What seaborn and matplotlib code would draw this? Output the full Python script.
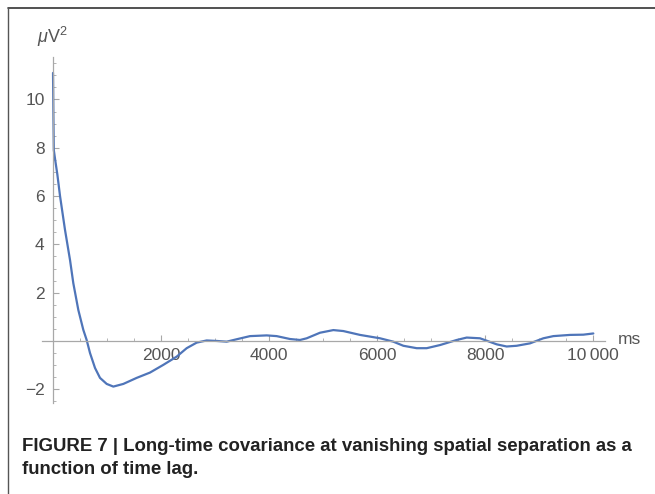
import numpy as np
import pandas as pd
import matplotlib
matplotlib.use("Agg")
import matplotlib.pyplot as plt
from matplotlib.lines import Line2D
from matplotlib.ticker import MultipleLocator, FixedLocator
import seaborn as sns

# ---- data ----
lag_ms = [0, 3, 8, 15, 40, 80, 130, 222, 315, 376, 469, 561, 623, 685, 778,
          870, 994, 1117, 1302, 1549, 1796, 2043, 2290, 2475, 2660, 2845,
          3030, 3216, 3401, 3648, 3957, 4142, 4389, 4574, 4698, 4944, 5191,
          5376, 5685, 6056, 6302, 6488, 6735, 6920, 7167, 7476, 7661, 7907,
          8031, 8216, 8401, 8586, 8833, 9080, 9265, 9574, 9821, 10006]
cov_uv2 = [11.1, 10.4, 9.2, 7.9, 7.5, 6.9, 6.0, 4.6, 3.35, 2.39, 1.28, 0.46,
           0.04, -0.5, -1.12, -1.53, -1.78, -1.89, -1.78, -1.53, -1.31, -0.99,
           -0.65, -0.3, -0.07, 0.02, 0.0, -0.03, 0.07, 0.2, 0.23, 0.2, 0.08,
           0.04, 0.11, 0.34, 0.45, 0.41, 0.25, 0.11, -0.03, -0.2, -0.3, -0.3,
           -0.17, 0.04, 0.14, 0.11, 0.01, -0.14, -0.23, -0.2, -0.1, 0.11, 0.2,
           0.25, 0.26, 0.31]
x_ticks = [2000, 4000, 6000, 8000, 10000]
x_tick_labels = ["2000", "4000", "6000", "8000", "10\u2009000"]
y_ticks = [-2, 2, 4, 6, 8, 10]
y_tick_labels = ["\u22122", "2", "4", "6", "8", "10"]
caption = ("FIGURE 7 | Long-time covariance at vanishing spatial separation as a\n"
           "function of time lag.")

df = pd.DataFrame({"lag": lag_ms, "cov": cov_uv2})

sns.set_style("white")
plt.rcParams["font.family"] = ["Liberation Sans", "DejaVu Sans"]
plt.rcParams["mathtext.fontset"] = "custom"
plt.rcParams["mathtext.it"] = "Liberation Sans:italic"
plt.rcParams["mathtext.rm"] = "Liberation Sans"

W, H = 655, 494
fig = plt.figure(figsize=(W / 100, H / 100), dpi=100)
ax = fig.add_axes([42 / W, 1 - 403 / H, 563 / W, 346 / H])

sns.lineplot(data=df, x="lag", y="cov", ax=ax, color="#4f75b9", linewidth=1.6,
             estimator=None, sort=False)

ax.set_xlim(-204, 10222)
ax.set_ylim(-2.57, 11.76)
ax.set_xlabel("")
ax.set_ylabel("")

axis_grey = "#a8a8a8"
for s in ["top", "right"]:
    ax.spines[s].set_visible(False)
ax.spines["left"].set_position(("data", 0))
ax.spines["bottom"].set_position(("data", 0))
for s in ["left", "bottom"]:
    ax.spines[s].set_color(axis_grey)
    ax.spines[s].set_linewidth(0.9)

ax.xaxis.set_major_locator(FixedLocator(x_ticks))
ax.set_xticklabels(x_tick_labels)
ax.xaxis.set_minor_locator(MultipleLocator(500))
ax.yaxis.set_major_locator(FixedLocator(y_ticks))
ax.set_yticklabels(y_tick_labels)
ax.yaxis.set_minor_locator(MultipleLocator(0.5))

ax.tick_params(axis="x", which="major", direction="in", length=4, width=0.8,
               color=axis_grey, labelsize=12.5, labelcolor="#555555", pad=5)
ax.tick_params(axis="x", which="minor", direction="in", length=2, width=0.6,
               color=axis_grey)
ax.tick_params(axis="y", which="major", direction="in", length=4, width=0.8,
               color=axis_grey, labelsize=12.5, labelcolor="#555555", pad=6)
ax.tick_params(axis="y", which="minor", direction="in", length=2, width=0.6,
               color=axis_grey)
ax.tick_params(which="both", bottom=True, left=True)

ax.text(52 / W, 1 - 37 / H, r"$\mu$V$^2$", transform=fig.transFigure,
        ha="center", va="center", fontsize=13, color="#555555")
ax.text(618 / W, 1 - 340 / H, "ms", transform=fig.transFigure,
        ha="left", va="center", fontsize=12.5, color="#555555")

# figure frame (top and left rules)
fig.add_artist(Line2D([8 / W, 1], [1 - 8 / H, 1 - 8 / H],
                      transform=fig.transFigure, color="#333333", linewidth=1.2))
fig.add_artist(Line2D([8 / W, 8 / W], [0, 1 - 8 / H],
                      transform=fig.transFigure, color="#555555", linewidth=1.0))

fig.text(22 / W, 1 - 458 / H, caption, ha="left", va="center",
         fontsize=13.4, fontweight="bold", color="#222222", linespacing=1.5)

fig.savefig("out.png", dpi=100)
